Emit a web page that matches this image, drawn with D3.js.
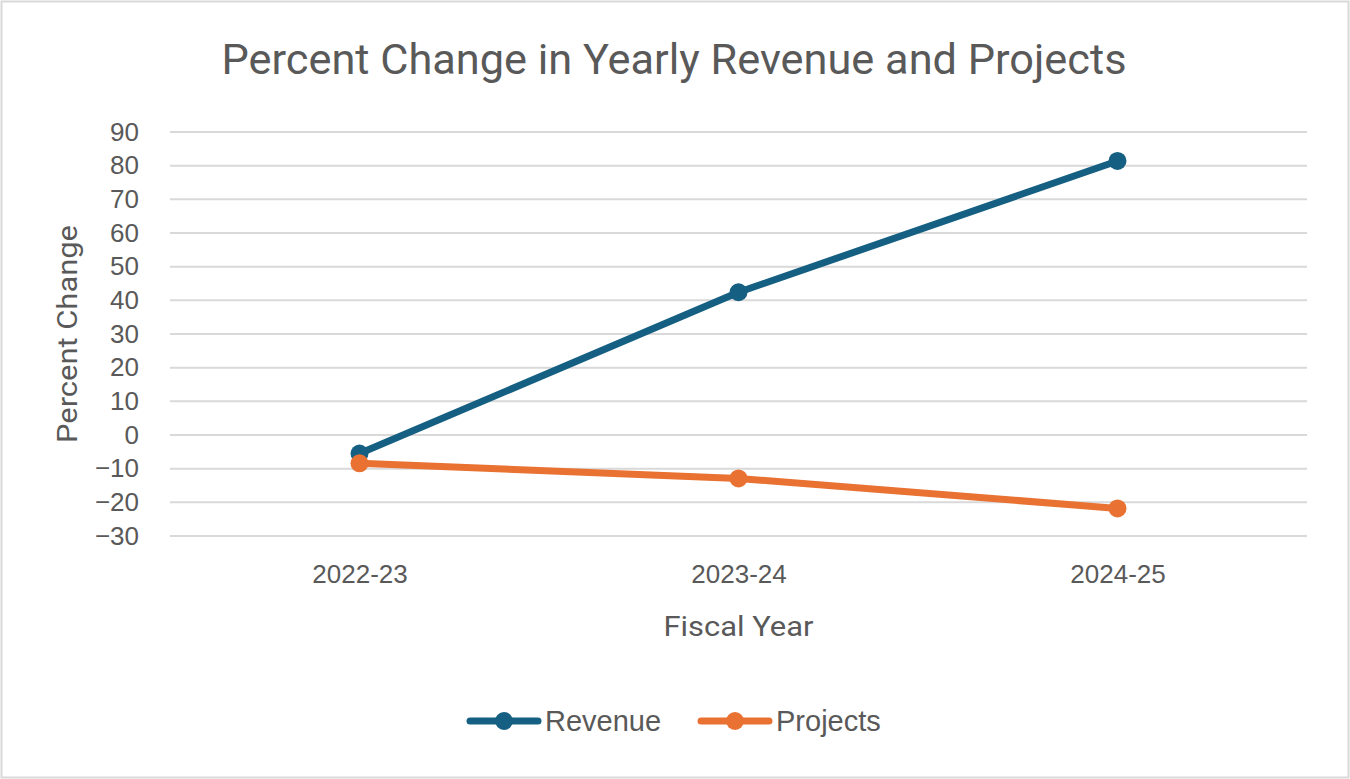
<!DOCTYPE html>
<html>
<head>
<meta charset="utf-8">
<script src="https://cdn.jsdelivr.net/npm/d3@7"></script>
<style>
  body { margin: 0; background: #fff; }
  svg text { font-family: "Liberation Sans Narrow", "Roboto", "Liberation Sans", sans-serif; fill: #595959; }
</style>
</head>
<body>
<script>
// chart values
const years = ["2022-23", "2023-24", "2024-25"];
const revenue = [-5.5, 42.4, 81.4];
const projects = [-8.4, -12.9, -21.8];
const yTicks = [-30, -20, -10, 0, 10, 20, 30, 40, 50, 60, 70, 80, 90];
const seriesNames = ["Revenue", "Projects"];

const width = 1350;
const height = 779;
const plot = { left: 170, right: 1307, top: 132, bottom: 536 };
const colors = ["#156082", "#E97132"];
const line_width = 7;
const dot_r = 9;
const tick_font = "'Liberation Sans', Arial, sans-serif";

const svg = d3.select("body").append("svg")
    .attr("width", width)
    .attr("height", height);

// outer frame
svg.append("rect")
    .attr("x", 1.5).attr("y", 1.5)
    .attr("width", width - 3).attr("height", height - 3)
    .attr("fill", "white")
    .attr("stroke", "#d9d9d9")
    .attr("stroke-width", 2);

const x = d3.scalePoint()
    .domain(years)
    .range([plot.left, plot.right])
    .padding(0.5);

const y = d3.scaleLinear()
    .domain([-30, 90])
    .range([plot.bottom, plot.top]);

// gridlines
svg.append("g")
    .selectAll("line")
    .data(yTicks)
    .join("line")
    .attr("x1", plot.left)
    .attr("x2", plot.right)
    .attr("y1", d => y(d))
    .attr("y2", d => y(d))
    .attr("stroke", "#d9d9d9")
    .attr("stroke-width", 2);

// y axis labels
const yAxis = svg.append("g")
    .attr("transform", `translate(${plot.left - 31},0)`)
    .call(d3.axisLeft(y).tickValues(yTicks).tickSize(0).tickPadding(0));
yAxis.select(".domain").remove();
yAxis.selectAll("text")
    .style("font-family", tick_font)
    .style("font-size", "26px")
    .attr("fill", "#595959");

// x axis labels
const xAxis = svg.append("g")
    .attr("transform", `translate(0,${plot.bottom + 29})`)
    .call(d3.axisBottom(x).tickSize(0).tickPadding(0));
xAxis.select(".domain").remove();
xAxis.selectAll("text")
    .style("font-family", tick_font)
    .style("font-size", "26px")
    .attr("fill", "#595959");

// title
svg.append("text")
    .attr("x", 674)
    .attr("y", 74)
    .attr("text-anchor", "middle")
    .attr("textLength", 905)
    .attr("lengthAdjust", "spacingAndGlyphs")
    .style("font-size", "42px")
    .text("Percent Change in Yearly Revenue and Projects");

// axis titles
svg.append("text")
    .attr("transform", `translate(77,${(plot.top + plot.bottom) / 2}) rotate(-90)`)
    .attr("text-anchor", "middle")
    .attr("textLength", 218)
    .attr("lengthAdjust", "spacingAndGlyphs")
    .style("font-size", "27px")
    .text("Percent Change");

svg.append("text")
    .attr("x", (plot.left + plot.right) / 2)
    .attr("y", 636)
    .attr("text-anchor", "middle")
    .attr("textLength", 150)
    .attr("lengthAdjust", "spacingAndGlyphs")
    .style("font-size", "27px")
    .text("Fiscal Year");

// series
const series = [revenue, projects];
const line = d3.line().x((d, i) => x(years[i])).y(d => y(d));

series.forEach((vals, s) => {
    svg.append("path")
        .datum(vals)
        .attr("d", line)
        .attr("fill", "none")
        .attr("stroke", colors[s])
        .attr("stroke-width", line_width)
        .attr("stroke-linecap", "round")
        .attr("stroke-linejoin", "round");
    svg.append("g")
        .selectAll("circle")
        .data(vals)
        .join("circle")
        .attr("cx", (d, i) => x(years[i]))
        .attr("cy", d => y(d))
        .attr("r", dot_r)
        .attr("fill", colors[s]);
});

// legend
const legendX = [467, 698];
const legendY = 721;
seriesNames.forEach((name, s) => {
    const g = svg.append("g").attr("transform", `translate(${legendX[s]},${legendY})`);
    g.append("line")
        .attr("x1", 3).attr("x2", 71)
        .attr("y1", 0).attr("y2", 0)
        .attr("stroke", colors[s])
        .attr("stroke-width", line_width)
        .attr("stroke-linecap", "round");
    g.append("circle")
        .attr("cx", 37).attr("cy", 0)
        .attr("r", dot_r)
        .attr("fill", colors[s]);
    g.append("text")
        .attr("x", 78)
        .attr("y", 10)
        .style("font-family", tick_font)
        .style("font-size", "29px")
        .text(name);
});
</script>
</body>
</html>
